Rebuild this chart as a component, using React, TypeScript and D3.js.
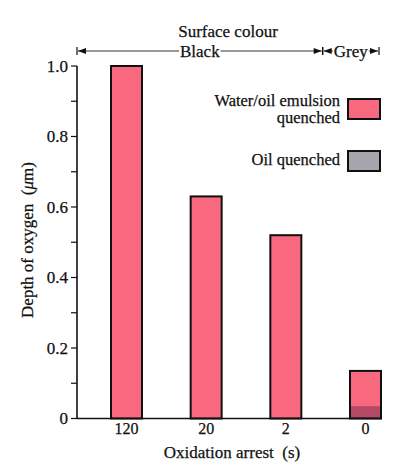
import { useEffect, useRef } from 'react';
import * as d3 from 'd3';

// Oxidation arrest time categories (s)
const categories = ['120', '20', '2', '0'];
// Depth of oxygen (µm) per quench medium
const emulsionDepth = [1.0, 0.63, 0.52, 0.135];
const oilDepth = [0, 0, 0, 0.035];
// y ticks every 0.1, labels every 0.2
const yTicks = [0, 0.1, 0.2, 0.3, 0.4, 0.5, 0.6, 0.7, 0.8, 0.9, 1.0];
const yTickLabels = ['0', '', '0.2', '', '0.4', '', '0.6', '', '0.8', '', '1.0'];
// surface colour bands over the categories
const surfaceLabels = ['Black', 'Grey'];
const surfaceFirst = ['120', '0'];
const surfaceLast = ['2', '0'];
const legendLabels = [['Water/oil emulsion', 'quenched'], ['Oil quenched']];

const W = 400;
const H = 468;
const FONT = "'Liberation Serif', 'Times New Roman', serif";
const PINK = '#f8687f';
const DARK = '#b54a66';
const GREY = '#a6a5ae';
const INK = '#111';

export default function App() {
  const svgRef = useRef<SVGSVGElement>(null);

  useEffect(() => {
    if (!svgRef.current) return;
    const svg = d3.select(svgRef.current);
    svg.selectAll('*').remove();

    const axisLeft = 77;
    const axisRight = 382;
    const barW = 31;

    const x = d3.scalePoint<string>().domain(categories).range([126.5, 365.5]);
    const y = d3.scaleLinear().domain([0, 1]).range([418.5, 66]);

    const g = svg.append('g').style('font-family', FONT).attr('fill', INK);

    // heavier printed-looking text
    const label = (sel: d3.Selection<SVGTextElement, unknown, null, undefined>) =>
      sel.attr('stroke', INK).attr('stroke-width', 0.25);

    // bars
    categories.forEach((c, i) => {
      const cx = x(c)!;
      g.append('rect')
        .attr('x', cx - barW / 2)
        .attr('y', y(emulsionDepth[i]))
        .attr('width', barW)
        .attr('height', y(0) - y(emulsionDepth[i]))
        .attr('fill', PINK);
      if (oilDepth[i] > 0) {
        g.append('rect')
          .attr('x', cx - barW / 2)
          .attr('y', y(oilDepth[i]))
          .attr('width', barW)
          .attr('height', y(0) - y(oilDepth[i]))
          .attr('fill', DARK);
      }
      g.append('rect')
        .attr('x', cx - barW / 2)
        .attr('y', y(emulsionDepth[i]))
        .attr('width', barW)
        .attr('height', y(0) - y(emulsionDepth[i]))
        .attr('fill', 'none')
        .attr('stroke', INK)
        .attr('stroke-width', 2);
    });

    // y axis
    g.append('line')
      .attr('x1', axisLeft).attr('x2', axisLeft)
      .attr('y1', y(0)).attr('y2', y(1))
      .attr('stroke', INK).attr('stroke-width', 1.6);
    yTicks.forEach((t, i) => {
      g.append('line')
        .attr('x1', axisLeft - 6).attr('x2', axisLeft)
        .attr('y1', y(t)).attr('y2', y(t))
        .attr('stroke', INK).attr('stroke-width', 1.2);
      if (yTickLabels[i]) {
        g.append('text')
          .attr('x', axisLeft - 9)
          .attr('y', y(t))
          .attr('dy', '0.35em')
          .attr('text-anchor', 'end')
          .attr('font-size', 17)
          .call(label)
          .text(yTickLabels[i]);
      }
    });

    // x axis
    g.append('line')
      .attr('x1', axisLeft).attr('x2', axisRight)
      .attr('y1', y(0)).attr('y2', y(0))
      .attr('stroke', INK).attr('stroke-width', 1.6);
    categories.forEach(c => {
      g.append('text')
        .attr('x', x(c)!)
        .attr('y', 434)
        .attr('text-anchor', 'middle')
        .attr('font-size', 16)
        .call(label)
        .text(c);
    });

    g.append('text')
      .attr('x', 232)
      .attr('y', 458)
      .attr('text-anchor', 'middle')
      .attr('font-size', 17)
      .style('white-space', 'pre')
      .call(label)
      .text('Oxidation arrest  (s)');

    const ylab = g.append('text')
      .attr('transform', 'translate(33,240) rotate(-90)')
      .attr('text-anchor', 'middle')
      .attr('font-size', 17)
      .style('white-space', 'pre')
      .call(label);
    ylab.append('tspan').text('Depth of oxygen  (');
    ylab.append('tspan').attr('font-style', 'italic').text('μ');
    ylab.append('tspan').text('m)');

    // surface colour annotation
    g.append('text')
      .attr('x', 228)
      .attr('y', 37)
      .attr('text-anchor', 'middle')
      .attr('font-size', 17)
      .call(label)
      .text('Surface colour');

    const lineY = 51;
    const arrowL = 8;
    const arrowH = 3;
    const bounds = surfaceLabels.map((_, i) => {
      const fi = categories.indexOf(surfaceFirst[i]);
      const li = categories.indexOf(surfaceLast[i]);
      const left = fi === 0
        ? axisLeft
        : (x(categories[fi - 1])! + barW / 2 + x(categories[fi])! - barW / 2) / 2 - 3;
      const right = li === categories.length - 1
        ? x(categories[li])! + barW / 2 - 2
        : (x(categories[li])! + barW / 2 + x(categories[li + 1])! - barW / 2) / 2 - 3;
      return [left, right];
    });

    surfaceLabels.forEach((lab, i) => {
      const [l, r] = bounds[i];
      const cx = (l + r) / 2;
      const txt = g.append('text')
        .attr('x', cx)
        .attr('y', lineY + 6)
        .attr('text-anchor', 'middle')
        .attr('font-size', 17)
        .call(label)
        .text(lab);
      const tw = (txt.node() as SVGTextElement).getComputedTextLength();
      const gap = 1;
      // end bars
      [l, r].forEach(px => {
        g.append('line')
          .attr('x1', px).attr('x2', px)
          .attr('y1', lineY - 4).attr('y2', lineY + 4)
          .attr('stroke', INK).attr('stroke-width', 1.2);
      });
      // lines either side of the label
      g.append('line')
        .attr('x1', l + 1).attr('x2', cx - tw / 2 - gap)
        .attr('y1', lineY).attr('y2', lineY)
        .attr('stroke', '#333').attr('stroke-width', 1);
      g.append('line')
        .attr('x1', cx + tw / 2 + gap).attr('x2', r - 1)
        .attr('y1', lineY).attr('y2', lineY)
        .attr('stroke', '#333').attr('stroke-width', 1);
      // arrowheads
      g.append('path')
        .attr('d', `M${l + 1},${lineY} L${l + 1 + arrowL},${lineY - arrowH} L${l + 1 + arrowL},${lineY + arrowH} Z`)
        .attr('fill', INK);
      g.append('path')
        .attr('d', `M${r - 1},${lineY} L${r - 1 - arrowL},${lineY - arrowH} L${r - 1 - arrowL},${lineY + arrowH} Z`)
        .attr('fill', INK);
    });

    // legend
    const legX = 340;
    const boxX = 348;
    const boxW = 32;
    const boxH = 20;
    const legendFills = [PINK, GREY];
    const legendBoxY = [99, 151];
    const legendTextY = [[106, 123], [165]];
    legendLabels.forEach((lines, i) => {
      lines.forEach((ln, j) => {
        g.append('text')
          .attr('x', legX)
          .attr('y', legendTextY[i][j])
          .attr('text-anchor', 'end')
          .attr('font-size', 16.5)
          .call(label)
          .text(ln);
      });
      g.append('rect')
        .attr('x', boxX)
        .attr('y', legendBoxY[i])
        .attr('width', boxW)
        .attr('height', boxH)
        .attr('fill', legendFills[i])
        .attr('stroke', INK)
        .attr('stroke-width', 2);
    });
  }, []);

  return (
    <svg
      ref={svgRef}
      width={W}
      height={H}
      viewBox={`0 0 ${W} ${H}`}
      style={{ position: 'absolute', left: 0, top: 0, background: '#fff' }}
    />
  );
}
